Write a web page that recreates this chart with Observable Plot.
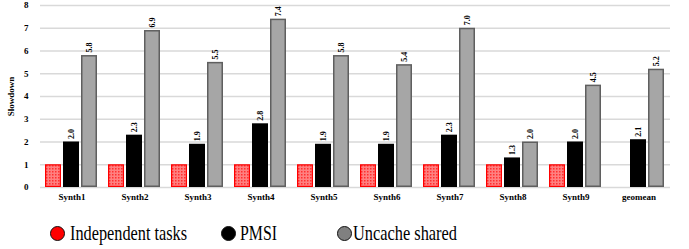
<!DOCTYPE html>
<html><head><meta charset="utf-8">
<script src="https://cdn.jsdelivr.net/npm/d3@7"></script>
<script src="https://cdn.jsdelivr.net/npm/@observablehq/plot@0.6"></script>
<style>
body{margin:0;background:#fff;}
#legend{position:relative;height:37px;font-family:"Liberation Serif","Times New Roman",Times,"DejaVu Serif",serif;font-size:21px;color:#000;}
.item{position:absolute;top:8px;height:28px;}
.dot{position:absolute;top:6px;width:15px;height:15px;border-radius:50%;border:1.5px solid #111;box-sizing:border-box;}
.lbl{position:absolute;top:0;white-space:nowrap;transform-origin:0 50%;display:inline-block;line-height:28px;}
</style>
</head><body>
<div id="chart"></div>
<div id="legend"></div>
<script>
const categories = ["Synth1","Synth2","Synth3","Synth4","Synth5","Synth6","Synth7","Synth8","Synth9","geomean"];
const series = ["Independent tasks","PMSI","Uncache shared"];
const independent = [1,1,1,1,1,1,1,1,1,null];
const pmsi = [2.0,2.3,1.9,2.8,1.9,1.9,2.3,1.3,2.0,2.1];
const uncache = [5.8,6.9,5.5,7.4,5.8,5.4,7.0,2.0,4.5,5.2];
const yTicks = [0,1,2,3,4,5,6,7,8];

const rows = [];
categories.forEach((c,i)=>{
  [independent,pmsi,uncache].forEach((arr,j)=>{
    if (arr[i] != null) rows.push({cat:c, s:series[j], v:arr[i]});
  });
});
const font = '"Liberation Serif","Times New Roman",Times,"DejaVu Serif",serif';
const plot = Plot.plot({
  width: 689, height: 212,
  marginLeft: 39, marginRight: 18, marginTop: 5, marginBottom: 25,
  style: {fontFamily: font, fontSize: "9px", fontWeight: "bold", color:"#000"},
  fx: {domain: categories, padding: 0, label: null, tickSize: 0, tickPadding: 6},
  x: {domain: series, axis: null, paddingInner: 0.11, paddingOuter: 0.3},
  y: {domain: [0,8], ticks: yTicks, label: "Slowdown", labelAnchor: "center", labelArrow: "none", labelOffset: 33, tickSize: 0, tickPadding: 12, grid: false},
  marks: [
    Plot.gridY(yTicks, {stroke: "#d9d9d9", strokeOpacity: 1, strokeWidth: 1.5}),
    Plot.barY(rows.filter(d=>d.s===series[0]), {fx:"cat", x:"s", y:"v", fill:"url(#dots)", stroke:"#ff0000", strokeWidth:1.2, inset:0.6}),
    Plot.barY(rows.filter(d=>d.s===series[1]), {fx:"cat", x:"s", y:"v", fill:"#000"}),
    Plot.barY(rows.filter(d=>d.s===series[2]), {fx:"cat", x:"s", y:"v", fill:"#a6a6a6", stroke:"#5f5f5f", strokeWidth:1.5, inset:0.75}),
    Plot.text(rows.filter(d=>d.s!==series[0]), {fx:"cat", x:"s", y:"v", text:d=>d.v.toFixed(1), rotate:-90, textAnchor:"start", dy:-3, fontSize:8, fontWeight:"bold", fill:"#000"})
  ]
});
const defs = document.createElementNS("http://www.w3.org/2000/svg","defs");
defs.innerHTML = '<pattern id="dots" patternUnits="userSpaceOnUse" width="3" height="3"><rect width="3" height="3" fill="#ff8080"/><rect width="1.5" height="1.5" fill="#ff3030"/></pattern>';
plot.insertBefore(defs, plot.firstChild);
document.getElementById("chart").appendChild(plot);

const legendItems = [
  {label: series[0], color: "#ff0000", x: 50, tx: 70, w: 117},
  {label: "PMSI", color: "#000000", x: 221, tx: 240, w: 37},
  {label: series[2], color: "#808080", x: 337, tx: 353, w: 104}
];
const lg = document.getElementById("legend");
legendItems.forEach(it=>{
  const dot = document.createElement("span"); dot.className="dot";
  dot.style.background = it.color; dot.style.left = it.x+"px"; dot.style.top = "14px";
  lg.appendChild(dot);
  const t = document.createElement("span"); t.className="lbl"; t.textContent = it.label;
  t.style.left = it.tx+"px"; t.style.top = "7px";
  lg.appendChild(t);
  const w = t.getBoundingClientRect().width;
  if (w > it.w) t.style.transform = `scaleX(${it.w/w})`;
});
</script>
</body></html>
